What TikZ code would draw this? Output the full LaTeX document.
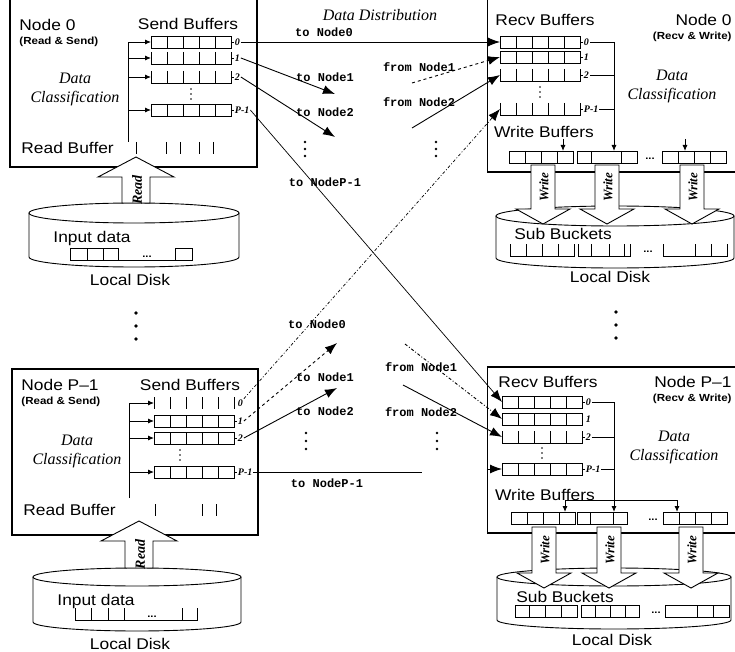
\documentclass[tikz,border=0pt]{standalone}
\usepackage{fontspec}
\setmainfont{Liberation Serif}
\setsansfont{Liberation Sans}[FakeStretch=1.12]
\setmonofont{Liberation Mono}
\usetikzlibrary{arrows.meta,positioning}

% buffer rows: name, centre, width, cell dividers
\newcommand{\fullbuf}[4]{%
  \node[cellrow, minimum width=#3pt] (#1) at (#2) {};
  \draw (#1.north west) rectangle (#1.south east);
  \foreach \dx in {#4} \draw ([xshift=\dx]#1.north west) -- ([xshift=\dx]#1.south west);
}
\newcommand{\openbuf}[4]{%
  \node[cellrow, minimum width=#3pt] (#1) at (#2) {};
  \draw (#1.north west) -- (#1.south west) -- (#1.south east) -- (#1.north east);
  \foreach \dx in {#4} \draw ([xshift=\dx]#1.north west) -- ([xshift=\dx]#1.south west);
}
\newcommand{\tickbuf}[4]{%
  \node[cellrow, minimum width=#3pt] (#1) at (#2) {};
  \draw (#1.north west) -- (#1.south west) (#1.north east) -- (#1.south east);
  \foreach \dx in {#4} \draw ([xshift=\dx]#1.north west) -- ([xshift=\dx]#1.south west);
}
% disk: name, cx, top y, rx, ry, depth
\newcommand{\disk}[6]{%
  \coordinate (#1) at (#2,#3);
  \draw[fill=white] (#2-#4,#3) -- (#2-#4,#3+#6)
    arc[start angle=180, end angle=360, x radius=#4pt, y radius=#5pt] -- (#2+#4,#3);
  \draw (#2,#3) ellipse [x radius=#4pt, y radius=#5pt];
}
% block arrows: name, cx, tip/top y, tail/tip y, text
\newcommand{\readarrow}[5]{%
  \draw[blockarrow] (#2,#3) -- (#2+38,#3+20) -- (#2+14,#3+20) -- (#2+14,#4)
    -- (#2-14,#4) -- (#2-14,#3+20) -- (#2-38,#3+20) -- cycle;
  \node[vtext, font=\bfseries\itshape\fontsize{14}{16}\selectfont] (#1) at (#2+1,{(#3+20+#4)/2}) {#5};
}
\newcommand{\writearrow}[5]{%
  \draw[blockarrow] (#2-12,#3) -- (#2+12,#3) -- (#2+12,#4-15) -- (#2+27,#4-15)
    -- (#2,#4) -- (#2-27,#4-15) -- (#2-12,#4-15) -- cycle;
  \node[vtext] (#1) at (#2+1,{(#3+#4-15)/2}) {#5};
}
\newcommand{\vdotsat}[4]{%
  \foreach \k in {0,1,2} \fill (#1,#2+\k*#3) circle[radius=#4pt];
}

\begin{document}
\begin{tikzpicture}[
  x=1pt, y=-1pt, line width=0.9pt,
  nodebox/.style={draw, line width=1.2pt, inner sep=0},
  cellrow/.style={inner sep=0, outer sep=0, minimum height=12pt},
  title/.style={font=\sffamily\fontsize{15.5}{17}\selectfont, inner sep=1pt},
  role/.style={font=\sffamily\bfseries\fontsize{10.3}{12}\selectfont, inner sep=1pt},
  phase/.style={font=\itshape\fontsize{16}{19}\selectfont, align=center, inner sep=1pt},
  msg/.style={font=\ttfamily\bfseries\fontsize{12}{14}\selectfont, inner sep=1pt},
  idx/.style={font=\bfseries\itshape\fontsize{10}{12}\selectfont, inner sep=0.5pt},
  ell/.style={font=\sffamily\bfseries\fontsize{10}{10}\selectfont, inner sep=0},
  vtext/.style={rotate=90, font=\bfseries\itshape\fontsize{13}{15}\selectfont, inner sep=0},
  blockarrow/.style={fill=white, line width=0.9pt},
  feed/.style={-{Latex[length=6pt,width=5pt]}},
  send/.style={-{Latex[length=12pt,width=9pt]}},
]
\clip (0,0) rectangle (735,652);

% ---- Node 0, reading and sending ----------------------------------------
\node[nodebox, minimum width=247pt, minimum height=177pt] (tlbox) at (133.5,78.5) {};
\node[title, anchor=west] (tlname) at (18,25) {Node 0};
\node[role, anchor=west] (tlrole) at (18,42) {(Read \& Send)};
\node[title] (tlsendlbl) at (188,24) {Send Buffers};

\fullbuf{tlS0}{191,42}{80}{16,32,48,64}
\openbuf{tlS1}{191,58}{80}{16,32,48,64}
\openbuf{tlS2}{191,77}{80}{16,32,48,64}
\fullbuf{tlS3}{191,110}{80}{16,32,48,64}
\vdotsat{191}{89}{5}{0.9}
\node[idx, right=3pt of tlS0] (tlI0) {0};
\node[idx, right=3pt of tlS1] (tlI1) {1};
\node[idx, right=3pt of tlS2] (tlI2) {2};
\node[idx, right=3pt of tlS3] (tlI3) {P-1};
\foreach \r in {0,...,3} \draw (tlS\r.east) -- (tlI\r.west);

\coordinate (tlfeed) at (128,142);
\draw (tlfeed) -- (tlfeed |- tlS0.west);
\foreach \r in {0,...,3} \draw[feed] (tlfeed |- tlS\r.west) -- (tlS\r.west);

\node[phase] (tlclass) at (75,89) {Data\\Classification};
\node[title, anchor=west] (tlread) at (20,148) {Read Buffer};
\foreach \x in {136,166,180,199,213} \draw (\x,142) -- (\x,154);

\disk{tldisk}{134}{213}{105}{10}{44}
\readarrow{tlrd}{136}{157}{203}{Read}
\node[title, anchor=west] (tlinput) at (52,238) {Input data};
\openbuf{tlin}{131,254}{122}{17,33,48,105}
\draw (tlin.north west) -- ([xshift=48]tlin.north west)
      ([xshift=105]tlin.north west) -- (tlin.north east);
\node[ell] (tlindots) at (147,257) {...};
\node[title] (tldisklbl) at (130,280) {Local Disk};
\vdotsat{136}{313}{13}{1.8}

% ---- Node 0, receiving and writing --------------------------------------
\node[nodebox, minimum width=260pt, minimum height=182pt] (trbox) at (617.5,81) {};
\node[title] (trrecvlbl) at (545,20) {Recv Buffers};
\node[title, anchor=east] (trname) at (733,20) {Node 0};
\node[role, anchor=east] (trrole) at (733,37) {(Recv \& Write)};

\fullbuf{trR0}{540,42}{80}{16,32,48,64}
\fullbuf{trR1}{540,57}{80}{16,32,48,64}
\openbuf{trR2}{540,75}{80}{16,32,48,64}
\openbuf{trR3}{540,109}{80}{16,32,48,64}
\vdotsat{540}{87}{5}{0.9}
\node[idx, right=3pt of trR0] (trI0) {0};
\node[idx, right=3pt of trR1] (trI1) {1};
\node[idx, right=3pt of trR2] (trI2) {2};
\node[idx, right=3pt of trR3] (trI3) {P-1};
\foreach \r in {0,...,3} \draw (trR\r.east) -- (trI\r.west);

\coordinate (trcol) at (614,42);
\foreach \r in {0,2,3} \draw (trI\r.east) -- (trI\r.east -| trcol);
\node[phase] (trclass) at (672,86) {Data\\Classification};

\node[title] (trwritelbl) at (544,132) {Write Buffers};
\fullbuf{trW1}{541,157}{64}{16,32,48}
\fullbuf{trW2}{607,157}{60}{14,44}
\node[ell] (trWdots) at (650,159) {...};
\fullbuf{trW3}{694,157}{64}{16,32,48}
\draw[feed] (trcol) -- (trcol |- trW2.north);
\coordinate (trw1in) at (563,139);
\coordinate (trw3in) at (685,139);
\draw[feed] (trw1in) -- (trw1in |- trW1.north);
\draw[feed] (trw3in) -- (trw3in |- trW3.north);

\disk{trdisk}{615}{216}{119}{10}{42}
\writearrow{trwr1}{543}{165}{224}{Write}
\writearrow{trwr2}{607}{165}{224}{Write}
\writearrow{trwr3}{692}{165}{224}{Write}
\node[title] (trsublbl) at (563,234) {Sub Buckets};
\openbuf{trB1}{542,250}{64}{16,32,48}
\openbuf{trB2}{604,250}{52}{13,31,46}
\node[ell] (trBdots) at (648,252) {...};
\openbuf{trB3}{695,250}{64}{32,48}
\node[title] (trdisklbl) at (610,277) {Local Disk};
\vdotsat{616}{312}{13}{1.8}

% ---- Node P-1, reading and sending --------------------------------------
\node[nodebox, minimum width=246pt, minimum height=166pt] (blbox) at (135,452) {};
\node[title, anchor=west] (blname) at (20,385) {Node P--1};
\node[role, anchor=west] (blrole) at (20,402) {(Read \& Send)};
\node[title] (blsendlbl) at (190,385) {Send Buffers};

\tickbuf{blS0}{194,403}{80}{16,32,48,64}
\fullbuf{blS1}{194,421}{80}{16,32,48,64}
\fullbuf{blS2}{194,438}{80}{16,32,48,64}
\fullbuf{blS3}{194,472}{80}{16,32,48,64}
\vdotsat{180}{450}{5}{0.9}
\node[idx, right=3pt of blS0] (blI0) {0};
\node[idx, right=3pt of blS1] (blI1) {1};
\node[idx, right=3pt of blS2] (blI2) {2};
\node[idx, right=3pt of blS3] (blI3) {P-1};
\foreach \r in {1,...,3} \draw (blS\r.east) -- (blI\r.west);

\coordinate (blfeed) at (129,498);
\draw (blfeed) -- (blfeed |- blS0.west);
\foreach \r in {0,...,3} \draw[feed] (blfeed |- blS\r.west) -- (blS\r.west);

\node[phase] (blclass) at (77,451) {Data\\Classification};
\node[title, anchor=west] (blread) at (22,510) {Read Buffer};
\foreach \x in {155,202,216} \draw (\x,504) -- (\x,516);

\disk{bldisk}{137}{577}{104}{9}{45}
\readarrow{blrd}{139}{521}{568}{Read}
\node[title, anchor=west] (blinput) at (56,601) {Input data};
\openbuf{blin}{136,614}{122}{16,33,49,107}
\node[ell] (blindots) at (152,617) {...};
\node[title] (bldisklbl) at (130,644) {Local Disk};

% ---- Node P-1, receiving and writing ------------------------------------
\node[nodebox, minimum width=260pt, minimum height=166pt] (brbox) at (617.5,450) {};
\node[title] (brrecvlbl) at (548,382) {Recv Buffers};
\node[title, anchor=east] (brname) at (733,382) {Node P--1};
\node[role, anchor=east] (brrole) at (733,399) {(Recv \& Write)};

\fullbuf{brR0}{542,402}{80}{16,32,48,64}
\fullbuf{brR1}{542,419}{80}{16,32,48,64}
\openbuf{brR2}{542,437}{80}{16,32,48,64}
\fullbuf{brR3}{542,469}{80}{16,32,48,64}
\vdotsat{542}{448}{5}{0.9}
\node[idx, right=3pt of brR0] (brI0) {0};
\node[idx, right=3pt of brR1] (brI1) {1};
\node[idx, right=3pt of brR2] (brI2) {2};
\node[idx, right=3pt of brR3] (brI3) {P-1};
\foreach \r in {0,2,3} \draw (brR\r.east) -- (brI\r.west);

\coordinate (brcol) at (614,402);
\foreach \r in {0,2,3} \draw (brI\r.east) -- (brI\r.east -| brcol);
\node[phase] (brclass) at (674,447) {Data\\Classification};

\node[title] (brwritelbl) at (545,495) {Write Buffers};
\fullbuf{brW1}{543,518}{64}{16,32,48}
\fullbuf{brW2}{602,518}{50}{13,36}
\node[ell] (brWdots) at (653,520) {...};
\fullbuf{brW3}{695,518}{64}{16,32,48}
\coordinate (brsplitL) at (565,500);
\coordinate (brsplitR) at (677,500);
\draw[feed] (brcol) -- (brcol |- brW2.north);
\draw (brsplitL) -- (brsplitR);
\draw[feed] (brsplitL) -- (brsplitL |- brW1.north);
\draw[feed] (brsplitR) -- (brsplitR |- brW3.north);

\disk{brdisk}{614}{577}{117}{9}{43}
\writearrow{brwr1}{544}{527}{588}{Write}
\writearrow{brwr2}{609}{527}{588}{Write}
\writearrow{brwr3}{691}{527}{588}{Write}
\node[title] (brsublbl) at (565,597) {Sub Buckets};
\fullbuf{brB1}{546,611}{62}{14,30,46}
\fullbuf{brB2}{610,611}{58}{14,29,44}
\node[ell] (brBdots) at (656,613) {...};
\fullbuf{brB3}{697,611}{64}{32,48}
\node[title] (brdisklbl) at (612,640) {Local Disk};

% ---- data distribution --------------------------------------------------
\node[phase] (distlbl) at (380,15) {Data Distribution};

\node[msg] (m00) at (324,32) {to Node0};
\draw[send] (tlI0.east) -- (tlI0.east -| trR0.west);
\coordinate (tip01) at (335,94);
\coordinate (tip02) at (335,137);
\draw[send] (tlI1.east) -- (tip01);
\draw[send] (tlI2.east) -- (tip02);
\node[msg] (m01) at (325,77) {to Node1};
\node[msg] (m02) at (325,112) {to Node2};
\vdotsat{305}{142}{7}{1.3}
\node[msg] (m0p) at (325,182) {to NodeP-1};
\draw[send, line width=0.7pt] (tlI3.east) -- (brR0.west);

\coordinate (from01) at (412,83);
\coordinate (from02) at (412,128);
\node[msg] (f01) at (419,67) {from Node1};
\node[msg] (f02) at (419,102) {from Node2};
\draw[send, dashed] (from01) -- (trR1.west);
\draw[send] (from02) -- (trR2.west);
\vdotsat{436}{142}{7}{1.3}

\draw[send, dash dot, line width=0.7pt] (blI0.north east) -- (trR3.west);
\node[msg] (mp0) at (317,324) {to Node0};
\coordinate (tip11) at (337,343);
\coordinate (tip12) at (337,388);
\draw[send, dashed] (blI1.east) -- (tip11);
\draw[send] (blI2.east) -- (tip12);
\node[msg] (mp1) at (325,377) {to Node1};
\node[msg] (mp2) at (325,411) {to Node2};
\vdotsat{306}{433}{8}{1.3}
\coordinate (selfend) at (422,470);
\draw (blI3.east) -- (selfend |- blI3.east);
\node[msg] (mpp) at (327,483) {to NodeP-1};

\coordinate (from11) at (405,344);
\coordinate (from12) at (403,385);
\node[msg] (f11) at (421,367) {from Node1};
\node[msg] (f12) at (421,412) {from Node2};
\draw[send, dash dot] (from11) -- (brR1.west);
\draw[send] (from12) -- (brR2.west);
\vdotsat{437}{433}{8}{1.3}
\coordinate (selfin) at (brbox.west |- brR3.west);
\draw[send] (selfin) -- (brR3.west);

\end{tikzpicture}
\end{document}
